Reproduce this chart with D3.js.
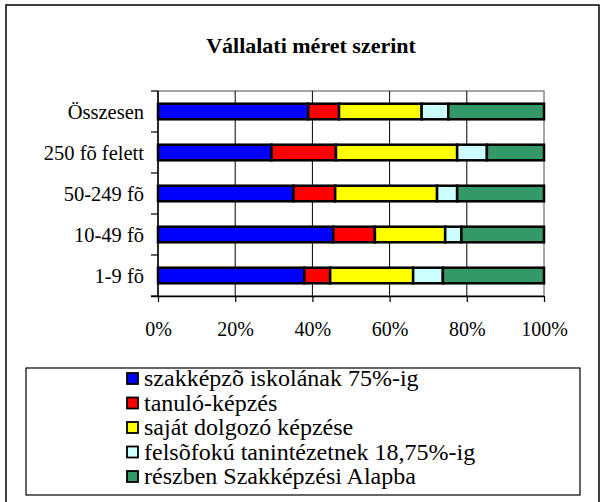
<!DOCTYPE html>
<html>
<head>
<meta charset="utf-8">
<script src="https://cdn.jsdelivr.net/npm/d3@7"></script>
<style>
    body { margin: 0; background: #fff; }
</style>
</head>
<body>
<div id="vb-chart"></div>
<script>
// Categories, top to bottom
var categories = ['Összesen', '250 fõ felett', '50-249 fõ', '10-49 fõ', '1-9 fõ'];

// Series (percent shares per category, same order as categories)
var seriesNames = [
    'szakképzõ iskolának 75%-ig',
    'tanuló-képzés',
    'saját dolgozó képzése',
    'felsõfokú tanintézetnek 18,75%-ig',
    'részben Szakképzési Alapba'
];
var szakkepzo = [38.9, 29.4, 35.1, 45.4, 37.9];
var tanulo    = [8.0, 16.7, 10.8, 10.8, 6.7];
var sajat     = [21.4, 31.4, 26.4, 18.2, 21.5];
var felsofoku = [6.9, 7.7, 5.2, 4.2, 7.7];
var alapba    = [24.8, 14.8, 22.5, 21.4, 26.2];

var xTicks = [0, 20, 40, 60, 80, 100];
var colors = ['#0000ff', '#ff0000', '#ffff00', '#ccffff', '#339966'];

(function(d3) {

    var FONT = "'Liberation Serif'";
    var width = 605, height = 502;
    var plot = {left: 158, right: 544, top: 91, bottom: 296};

    var svg = d3.select('#vb-chart').append('svg')
        .attr('width', width)
        .attr('height', height);

    // Outer frame
    svg.append('rect')
        .attr('x', 6).attr('y', 5)
        .attr('width', 593).attr('height', 520)
        .attr('fill', '#fff')
        .attr('stroke', '#000')
        .attr('stroke-width', 1.5);

    // Title
    svg.append('text')
        .attr('x', 311).attr('y', 53)
        .attr('text-anchor', 'middle')
        .style('font-family', FONT)
        .style('font-size', '22px')
        .style('font-weight', 'bold')
        .text('Vállalati méret szerint');

    // Build rows for stacking
    var values = [szakkepzo, tanulo, sajat, felsofoku, alapba];
    var rows = categories.map(function(c, i) {
        var r = {cat: c};
        seriesNames.forEach(function(s, j) { r[s] = values[j][i]; });
        return r;
    });
    var stack = d3.stack().keys(seriesNames).offset(d3.stackOffsetExpand);
    var stacked = stack(rows);

    // Scales
    var x = d3.scaleLinear().domain([0, 1]).range([plot.left, plot.right]);
    var y = d3.scaleBand().domain(categories).range([plot.top, plot.bottom])
        .paddingInner(0.62).paddingOuter(0.31);
    var yEdges = d3.scaleBand().domain(categories).range([plot.top, plot.bottom]);

    // Plot border (grey)
    svg.append('rect')
        .attr('x', plot.left).attr('y', plot.top)
        .attr('width', plot.right - plot.left).attr('height', plot.bottom - plot.top)
        .attr('fill', 'none')
        .attr('stroke', '#888')
        .attr('stroke-width', 1.5);

    // Gridlines
    svg.append('g')
        .selectAll('line')
        .data(xTicks.slice(1, -1))
        .enter().append('line')
        .attr('x1', function(d) { return x(d / 100); })
        .attr('x2', function(d) { return x(d / 100); })
        .attr('y1', plot.top).attr('y2', plot.bottom)
        .attr('stroke', '#000')
        .attr('stroke-width', 1);

    // Bars
    svg.append('g')
        .selectAll('g')
        .data(stacked)
        .enter().append('g')
        .attr('fill', function(d, i) { return colors[i]; })
        .selectAll('rect')
        .data(function(d) { return d; })
        .enter().append('rect')
        .attr('x', function(d) { return x(d[0]); })
        .attr('y', function(d) { return y(d.data.cat); })
        .attr('width', function(d) { return x(d[1]) - x(d[0]); })
        .attr('height', y.bandwidth())
        .attr('stroke', '#000')
        .attr('stroke-width', 2.5);

    // Y axis (left): line plus ticks at band edges
    var yAxisG = svg.append('g');
    yAxisG.append('line')
        .attr('x1', plot.left).attr('x2', plot.left)
        .attr('y1', plot.top).attr('y2', plot.bottom)
        .attr('stroke', '#000').attr('stroke-width', 1.5);
    var edges = categories.map(function(c) { return yEdges(c); }).concat([plot.bottom]);
    yAxisG.selectAll('line.tick')
        .data(edges)
        .enter().append('line')
        .attr('class', 'tick')
        .attr('x1', plot.left - 7).attr('x2', plot.left)
        .attr('y1', function(d) { return d; })
        .attr('y2', function(d) { return d; })
        .attr('stroke', '#000').attr('stroke-width', 1.2);
    yAxisG.selectAll('text')
        .data(categories)
        .enter().append('text')
        .attr('x', 144)
        .attr('y', function(d) { return yEdges(d) + yEdges.bandwidth() / 2 + 7; })
        .attr('text-anchor', 'end')
        .style('font-family', FONT)
        .style('font-size', '20.5px')
        .text(function(d) { return d; });

    // X axis (bottom)
    var xAxis = d3.axisBottom(d3.scaleLinear().domain([0, 100]).range([plot.left, plot.right]))
        .tickValues(xTicks)
        .tickSize(6)
        .tickPadding(20)
        .tickFormat(function(d) { return d + '%'; });
    var xAxisG = svg.append('g')
        .attr('transform', 'translate(0,' + plot.bottom + ')')
        .call(xAxis);
    xAxisG.select('.domain')
        .attr('d', 'M' + (plot.left - 7) + ',0.5H' + plot.right)
        .attr('stroke-width', 1.5);
    xAxisG.selectAll('.tick line').attr('stroke-width', 1.2);
    xAxisG.selectAll('.tick text')
        .style('font-family', FONT)
        .style('font-size', '20px');

    // Legend
    var legend = {x: 26, y: 368, w: 554, h: 127};
    svg.append('rect')
        .attr('x', legend.x).attr('y', legend.y)
        .attr('width', legend.w).attr('height', legend.h)
        .attr('fill', '#fff')
        .attr('stroke', '#000')
        .attr('stroke-width', 1.2);
    var items = svg.append('g').selectAll('g')
        .data(seriesNames)
        .enter().append('g')
        .attr('transform', function(d, i) { return 'translate(127,' + (386 + i * 24.5) + ')'; });
    items.append('rect')
        .attr('x', 0).attr('y', -13)
        .attr('width', 11).attr('height', 11)
        .attr('fill', function(d, i) { return colors[i]; })
        .attr('stroke', '#000')
        .attr('stroke-width', 1.8);
    items.append('text')
        .attr('x', 17).attr('y', 0)
        .style('font-family', FONT)
        .style('font-size', '24px')
        .text(function(d) { return d; });

})(d3);
</script>
</body>
</html>
